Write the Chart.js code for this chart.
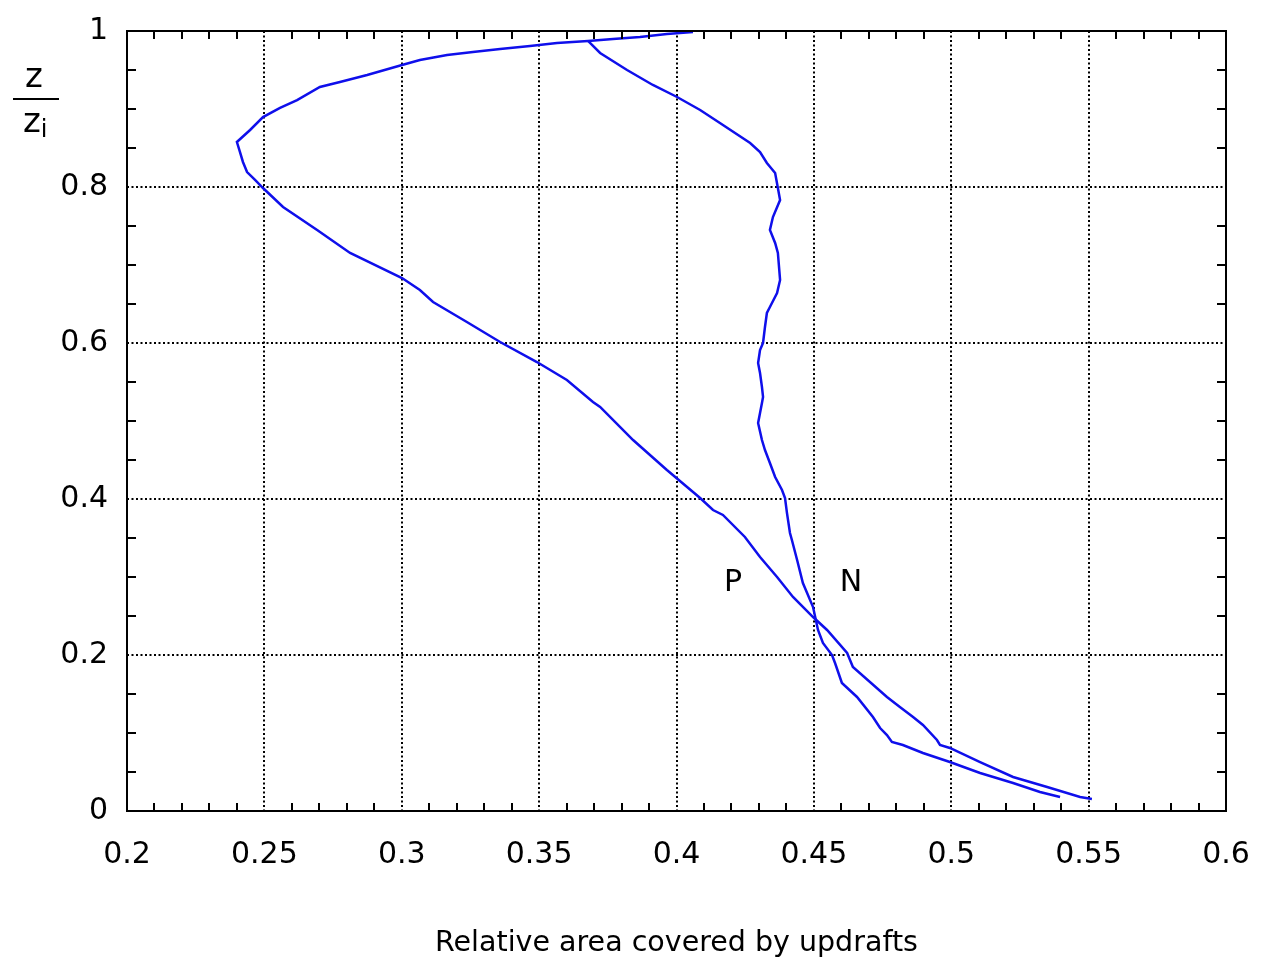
<!DOCTYPE html>
<html><head><meta charset="utf-8">
<script src="https://cdn.jsdelivr.net/npm/chart.js@4/dist/chart.umd.min.js"></script>
<style>html,body{margin:0;padding:0;background:#fff;overflow:hidden}#wrap{width:1262px;height:966px}</style>
</head><body><div id="wrap"><canvas id="c" width="1262" height="966"></canvas></div>
<script>
// Curve with the big loop (bottom -> top)
const curveA_x = [0.5512,0.5469,0.5349,0.5225,0.5105,0.4995,0.4959,0.4948,0.4897,0.4861,0.4813,0.4766,0.4642,0.4621,0.4548,0.4497,0.4424,0.4366,0.4304,0.4249,0.4169,0.4133,0.4086,0.3965,0.3842,0.3722,0.3696,0.3601,0.3492,0.3358,0.3237,0.3114,0.3066,0.3001,0.2812,0.2692,0.2568,0.2495,0.2466,0.2437,0.2422,0.2411,0.2400,0.2448,0.2495,0.2557,0.2619,0.2702,0.2775,0.2874,0.3001,0.3066,0.3165,0.3259,0.3358,0.3467,0.3565,0.3678,0.3769,0.3867,0.3965,0.4060];
const curveA_z = [0.0154,0.0179,0.0308,0.0436,0.0628,0.0808,0.0846,0.0910,0.1103,0.1205,0.1333,0.1462,0.1846,0.2026,0.2321,0.2487,0.2744,0.3000,0.3256,0.3513,0.3795,0.3859,0.4013,0.4372,0.4756,0.5180,0.5244,0.5526,0.5756,0.6013,0.6269,0.6526,0.6680,0.6833,0.7154,0.7449,0.7744,0.7987,0.8090,0.8192,0.8321,0.8449,0.8577,0.8731,0.8897,0.9013,0.9115,0.9282,0.9346,0.9436,0.9564,0.9628,0.9692,0.9731,0.9769,0.9808,0.9846,0.9872,0.9897,0.9923,0.9962,0.9987];
// Right-hand curve (top -> bottom)
const curveB_x = [0.3678,0.3722,0.3820,0.3914,0.4002,0.4086,0.4158,0.4268,0.4304,0.4329,0.4359,0.4369,0.4377,0.4351,0.4340,0.4359,0.4369,0.4377,0.4366,0.4340,0.4329,0.4322,0.4315,0.4304,0.4297,0.4304,0.4311,0.4315,0.4311,0.4304,0.4297,0.4311,0.4322,0.4340,0.4359,0.4384,0.4395,0.4402,0.4413,0.4420,0.4439,0.4460,0.4497,0.4515,0.4533,0.4566,0.4577,0.4602,0.4657,0.4715,0.4741,0.4766,0.4784,0.4824,0.4897,0.4995,0.5105,0.5225,0.5323,0.5396];
const curveB_z = [0.9872,0.9718,0.9500,0.9308,0.9154,0.8987,0.8820,0.8564,0.8449,0.8308,0.8179,0.7987,0.7833,0.7615,0.7449,0.7282,0.7154,0.6808,0.6641,0.6462,0.6385,0.6205,0.6000,0.5910,0.5744,0.5615,0.5436,0.5308,0.5231,0.5103,0.4974,0.4756,0.4628,0.4462,0.4282,0.4115,0.4013,0.3821,0.3564,0.3474,0.3218,0.2923,0.2615,0.2321,0.2154,0.2000,0.1897,0.1641,0.1462,0.1205,0.1064,0.0974,0.0885,0.0846,0.0744,0.0628,0.0487,0.0359,0.0244,0.0179];

const xTickLabels = ['0.2','0.25','0.3','0.35','0.4','0.45','0.5','0.55','0.6'];
const yTickLabels = ['0','0.2','0.4','0.6','0.8','1'];
const xAxisTitle = 'Relative area covered by updrafts';
const curveLabels = ['P','N'];
const curveLabelX = [0.4206,0.4635];
const curveLabelZ = [0.292,0.292];
const xMinorStep = 0.01, yMinorStep = 0.05;

const LINE = 'rgb(15,15,235)';
const toPts = (xs, zs) => xs.map((v,i)=>({x:v, y:zs[i]}));

const decor = {
  id:'decor',
  afterDatasetsDraw(chart){
    const {ctx, chartArea:a, scales:{x,y}} = chart;
    ctx.save();
    ctx.strokeStyle='#000';
    ctx.lineWidth=2;
    ctx.strokeRect(a.left, a.top, a.right-a.left, a.bottom-a.top);
    ctx.beginPath();
    const nx = Math.round((x.max-x.min)/xMinorStep);
    for(let i=1;i<nx;i++){
      if(i%5===0) continue;
      const px = Math.round(x.getPixelForValue(x.min+i*xMinorStep));
      ctx.moveTo(px,a.bottom); ctx.lineTo(px,a.bottom-8);
      ctx.moveTo(px,a.top); ctx.lineTo(px,a.top+8);
    }
    const ny = Math.round((y.max-y.min)/yMinorStep);
    for(let i=1;i<ny;i++){
      if(i%4===0) continue;
      const py = Math.round(y.getPixelForValue(y.min+i*yMinorStep));
      ctx.moveTo(a.left,py); ctx.lineTo(a.left+9,py);
      ctx.moveTo(a.right,py); ctx.lineTo(a.right-9,py);
    }
    ctx.stroke();
    // curve labels
    ctx.fillStyle='#000';
    ctx.font='30px "DejaVu Sans"';
    ctx.textAlign='center'; ctx.textBaseline='middle';
    curveLabels.forEach((t,i)=>{
      ctx.fillText(t, x.getPixelForValue(curveLabelX[i]), y.getPixelForValue(curveLabelZ[i]));
    });
    // y-axis fraction title z / z_i
    ctx.textBaseline='alphabetic';
    ctx.font='34px "DejaVu Sans"';
    ctx.fillText('z', 34, 87);
    ctx.fillRect(13, 98, 46, 2);
    ctx.fillText('z', 32, 132);
    ctx.font='24px "DejaVu Sans"';
    ctx.fillText('i', 44, 137);
    ctx.restore();
  }
};

new Chart(document.getElementById('c'), {
  type:'scatter',
  data:{datasets:[
    {data:toPts(curveA_x,curveA_z), showLine:true, borderColor:LINE, borderWidth:2.5, pointRadius:0, tension:0, fill:false},
    {data:toPts(curveB_x,curveB_z), showLine:true, borderColor:LINE, borderWidth:2.5, pointRadius:0, tension:0, fill:false}
  ]},
  options:{
    responsive:false, animation:false, devicePixelRatio:1,
    layout:{padding:{left:0,right:36,top:31,bottom:0}},
    plugins:{legend:{display:false}, tooltip:{enabled:false}},
    scales:{
      x:{type:'linear', min:0.2, max:0.6,
        afterFit(s){ s.height=155; s.paddingLeft=0; s.paddingRight=0; s.paddingTop=0; s.paddingBottom=0; },
        ticks:{stepSize:0.05, padding:26, color:'#000', font:{family:'DejaVu Sans', size:30},
          callback:(v,i)=>xTickLabels[i], maxRotation:0, autoSkip:false},
        grid:{color:'#000', lineWidth:2, drawTicks:false},
        border:{display:false, dash:[2,2.5]},
        title:{display:true, text:xAxisTitle, color:'#000', font:{family:'DejaVu Sans', size:28.5}, padding:{top:0,bottom:5}}
      },
      y:{type:'linear', min:0, max:1,
        afterFit(s){ s.width=127; s.paddingLeft=0; s.paddingRight=0; s.paddingTop=0; s.paddingBottom=0; },
        ticks:{stepSize:0.2, padding:19, color:'#000', font:{family:'DejaVu Sans', size:30},
          callback:(v,i)=>yTickLabels[i]},
        grid:{color:'#000', lineWidth:2, drawTicks:false},
        border:{display:false, dash:[2,2.5]}
      }
    }
  },
  plugins:[decor]
});
</script></body></html>
